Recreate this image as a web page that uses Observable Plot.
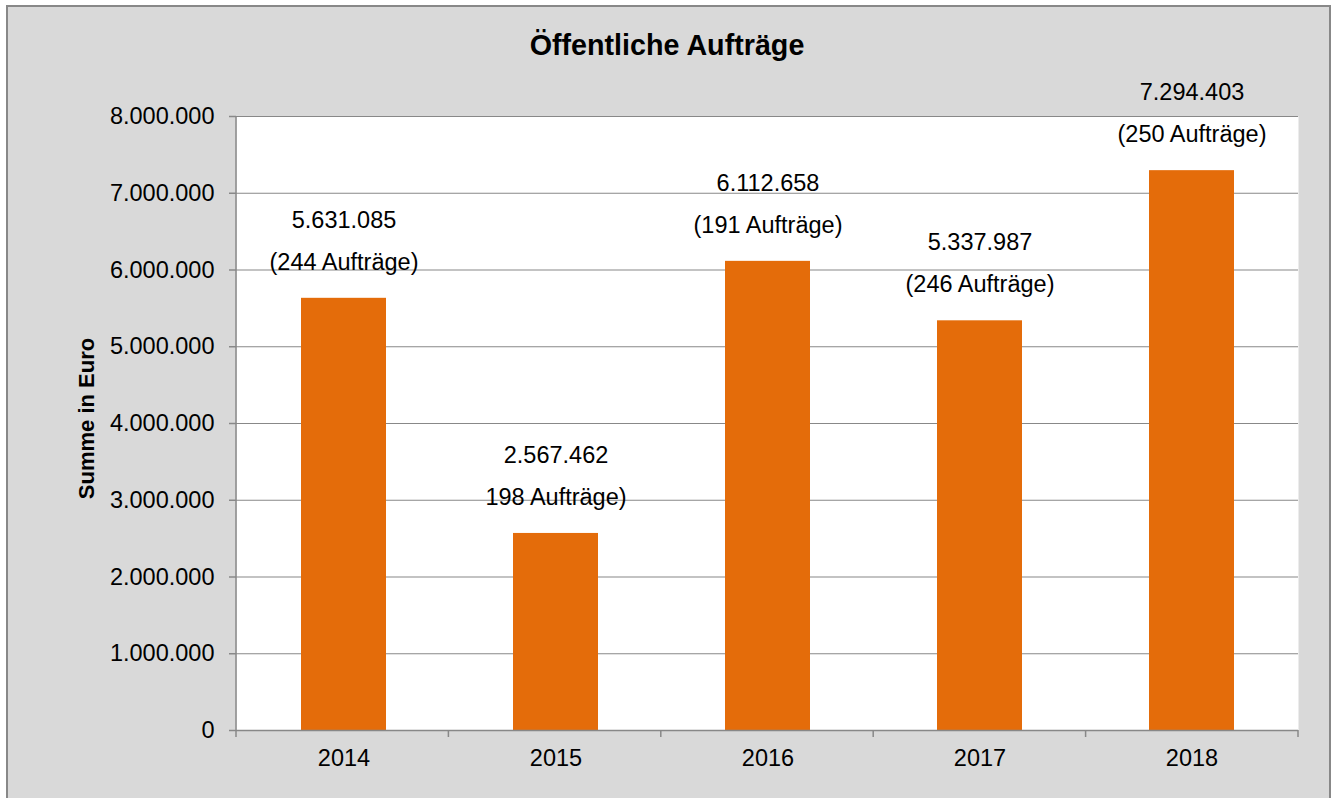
<!DOCTYPE html>
<html>
<head>
<meta charset="utf-8">
<script src="https://cdn.jsdelivr.net/npm/d3@7"></script>
<script src="https://cdn.jsdelivr.net/npm/@observablehq/plot@0.6"></script>
<style>
  html, body { margin: 0; padding: 0; background: #ffffff; }
  body { width: 1336px; height: 798px; overflow: hidden; font-family: "Liberation Sans", Arial, sans-serif; }
  #frame {
    position: absolute; left: 6px; top: 5px;
    width: 1321px; height: 800px;
    border: 2px solid #888888; border-bottom: none;
    background: #d9d9d9;
  }
  #title {
    padding-top: 13px;
    height: 50px; line-height: 50px; text-align: center;
    font-size: 28.7px; font-weight: bold; color: #000;
    padding-right: 3px;
  }
  #chart svg { display: block; }
</style>
</head>
<body>
<div id="frame">
  <div id="title">Öffentliche Aufträge</div>
  <div id="chart"></div>
</div>
<script>
// ---- data ----
const years = ["2014", "2015", "2016", "2017", "2018"];
const sums = [5631085, 2567462, 6112658, 5337987, 7294403];
const countLabels = ["(244 Aufträge)", "198 Aufträge)", "(191 Aufträge)", "(246 Aufträge)", "(250 Aufträge)"];
const yTicks = [0, 1000000, 2000000, 3000000, 4000000, 5000000, 6000000, 7000000, 8000000];
const yLabel = "Summe in Euro";

const data = years.map((year, i) => ({year, sum: sums[i], countLabel: countLabels[i]}));

const de = d3.formatLocale({decimal: ",", thousands: ".", grouping: [3], currency: ["", " €"]});
const fmt = de.format(",d");

const gray = "#888888";
const fs = 23.5;

const chart = Plot.plot({
  width: 1321,
  height: 728,
  marginLeft: 228,
  marginRight: 31,
  marginTop: 46,
  marginBottom: 68,
  style: {background: "transparent", fontFamily: "'Liberation Sans', Arial, sans-serif", color: "#000"},
  x: {domain: years, type: "band", paddingInner: 0.6, paddingOuter: 0.3, label: null},
  y: {domain: [0, 8000000], label: null},
  marks: [
    Plot.frame({fill: "white", stroke: null}),
    Plot.gridY(yTicks, {stroke: gray, strokeOpacity: 1, strokeWidth: 1.2}),
    Plot.barY(data, {x: "year", y: "sum", fill: "#e46c0a"}),
    Plot.ruleY([0], {stroke: gray, strokeWidth: 1.5}),
    // left axis line + category boundary ticks on the x axis
    (index, scales, values, dims) => {
      const {width, height, marginLeft, marginRight, marginTop, marginBottom} = dims;
      const g = d3.create("svg:g").attr("stroke", gray).attr("stroke-width", 1.5);
      const x0 = marginLeft, x1 = width - marginRight, yb = height - marginBottom;
      g.append("line").attr("x1", x0).attr("x2", x0).attr("y1", marginTop).attr("y2", yb + 7);
      const step = (x1 - x0) / years.length;
      for (let i = 1; i <= years.length; i++) {
        const x = x0 + i * step;
        g.append("line").attr("x1", x).attr("x2", x).attr("y1", yb).attr("y2", yb + 7);
      }
      return g.node();
    },
    Plot.axisY({ticks: yTicks, tickSize: 7, tickPadding: 15, tickFormat: fmt, fontSize: fs, stroke: gray, strokeWidth: 1.5, fill: "#000", label: null}),
    Plot.axisX({tickSize: 0, tickPadding: 19, fontSize: fs, fill: "#000", label: null}),
    Plot.text(data, {x: "year", y: "sum", text: d => fmt(d.sum), dy: -78, fontSize: fs, fill: "#000"}),
    Plot.text(data, {x: "year", y: "sum", text: "countLabel", dy: -36, fontSize: fs, fill: "#000"}),
    Plot.text([yLabel], {frameAnchor: "left", textAnchor: "middle", rotate: -90, dx: -150, dy: -5, fontWeight: "bold", fontSize: 22, fill: "#000"})
  ]
});
document.getElementById("chart").appendChild(chart);
</script>
</body>
</html>
